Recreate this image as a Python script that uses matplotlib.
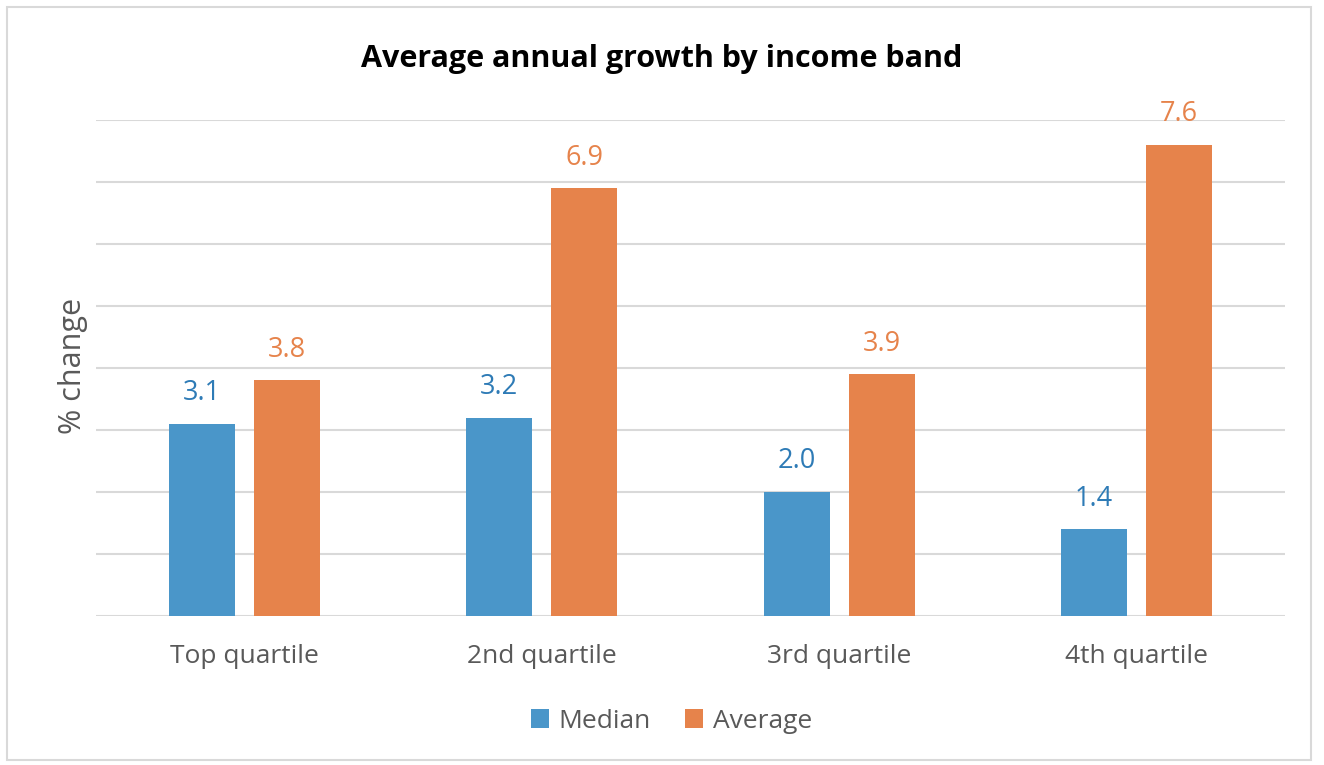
import matplotlib
matplotlib.use("Agg")
import matplotlib.pyplot as plt
import matplotlib.patches as mpatches
import numpy as np

plt.rcParams["font.family"] = ["Open Sans", "DejaVu Sans"]

categories = ["Top quartile", "2nd quartile", "3rd quartile", "4th quartile"]
median_vals = [3.1, 3.2, 2.0, 1.4]
average_vals = [3.8, 6.9, 3.9, 7.6]

BLUE = "#4A96C9"
ORANGE = "#E6834B"
BLUE_TXT = "#2E7BB6"
ORANGE_TXT = "#E6834B"
GREY = "#595959"

fig = plt.figure(figsize=(13.24, 7.65), dpi=100)
ax = fig.add_axes([0.0725, 0.1948, 0.8981, 0.6483])

# cadre du graphique
fig.patches.append(mpatches.Rectangle(
    (7 / 1324, 5 / 765), 1304 / 1324, 753 / 765,
    transform=fig.transFigure, fill=False, edgecolor="#D9D9D9", linewidth=1.5
))

x = np.arange(len(categories))
w = 0.222
off = 0.143
b1 = ax.bar(x - off, median_vals, w, color=BLUE, label="Median", zorder=3)
b2 = ax.bar(x + off, average_vals, w, color=ORANGE, label="Average", zorder=3)

for rect, v in zip(b1, median_vals):
    ax.annotate(f"{v:.1f}", (rect.get_x() + rect.get_width() / 2, v),
                xytext=(0, 22), textcoords="offset points", ha="center",
                va="center", color=BLUE_TXT, fontsize=19.5)
for rect, v in zip(b2, average_vals):
    ax.annotate(f"{v:.1f}", (rect.get_x() + rect.get_width() / 2, v),
                xytext=(0, 22), textcoords="offset points", ha="center",
                va="center", color=ORANGE_TXT, fontsize=19.5)

ax.set_xlim(-0.5, 3.5)
ax.set_ylim(0, 8)
ax.set_yticks(np.arange(0, 9, 1))
ax.set_yticklabels([])
ax.tick_params(axis="y", length=0)
ax.tick_params(axis="x", length=0, pad=20, labelsize=19, labelcolor=GREY)
ax.set_xticks(x)
ax.set_xticklabels(categories)
ax.grid(axis="y", color="#D9D9D9", linewidth=1.5, zorder=0)
for s in ax.spines.values():
    s.set_visible(False)

ax.set_ylabel("% change", fontsize=22, color=GREY, va="center")
ax.yaxis.set_label_coords(-0.0195, 0.504)
fig.text(0.5, 0.923, "Average annual growth by income band", ha="center",
         va="center", fontsize=22, fontweight="bold", color="black")

fig.legend(handles=[b1, b2], loc="center", bbox_to_anchor=(0.507, 0.057),
           ncol=2, frameon=False, fontsize=19, labelcolor=GREY,
           handlelength=0.7, handleheight=0.7, columnspacing=1.3,
           handletextpad=0.35)

fig.savefig("out.png", dpi=100)
